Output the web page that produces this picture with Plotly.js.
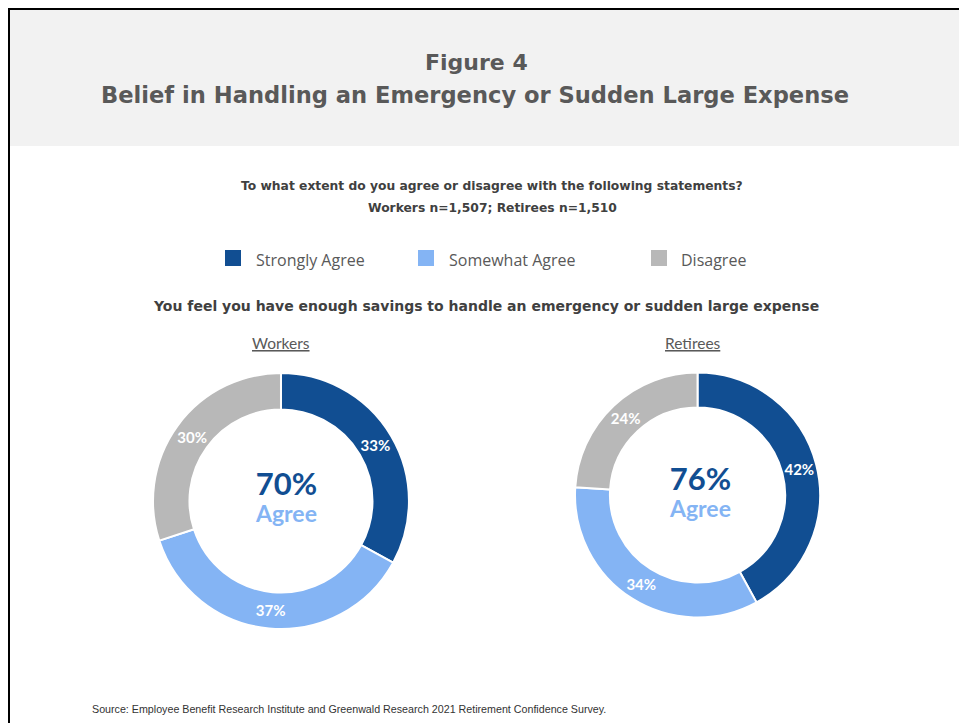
<!DOCTYPE html>
<html>
<head>
<meta charset="utf-8">
<script src="https://cdn.plot.ly/plotly-3.0.1.min.js"></script>
<style>html,body{margin:0;padding:0;background:#fff;}#chart{width:959px;height:723px;}</style>
</head>
<body>
<div id="chart"></div>
<script>
// Data
const categories = ["Strongly Agree", "Somewhat Agree", "Disagree"];
const workersValues = [33, 37, 30];
const retireesValues = [42, 34, 24];
const groupNames = ["Workers", "Retirees"];
const agreeTotals = [70, 76];
const colors = ["#114E92", "#84B4F4", "#B8B8B8"];

const FONT = "Lato, 'Open Sans', sans-serif";
const HEAD = "'DejaVu Sans', sans-serif";
const domains = [
  {x: [0.1595, 0.4265], y: [0.130, 0.484]},
  {x: [0.5996, 0.8551], y: [0.1459, 0.4848]}
];
const series = [workersValues, retireesValues];

const traces = series.map((vals, i) => ({
  type: "pie",
  labels: categories,
  values: vals,
  hole: 0.715,
  sort: false,
  direction: "clockwise",
  rotation: 0,
  domain: domains[i],
  marker: {colors: colors, line: {color: "#ffffff", width: 2}},
  texttemplate: "%{value}%",
  textposition: "inside",
  insidetextorientation: "horizontal",
  textfont: {family: FONT, size: 15, color: "#ffffff", weight: 700},
  showlegend: false,
  hoverinfo: "label+value"
}));

const annotations = [];
const shapes = [];

function px(x) { return x / 959; }
function py(y) { return 1 - y / 723; }

// Header band and border lines
shapes.push({type: "rect", xref: "paper", yref: "paper", x0: px(10), x1: 1, y0: py(146), y1: py(10), fillcolor: "#F2F2F2", line: {width: 0}, layer: "below"});
shapes.push({type: "line", xref: "paper", yref: "paper", x0: px(9), x1: px(9), y0: 0, y1: py(8), line: {color: "#000", width: 2}});
shapes.push({type: "line", xref: "paper", yref: "paper", x0: px(8), x1: 1, y0: py(9), y1: py(9), line: {color: "#000", width: 2}});

annotations.push({text: "<b>Figure 4</b>", x: px(476), y: py(62), xref: "paper", yref: "paper", showarrow: false, font: {family: HEAD, size: 22, color: "#595959"}, xanchor: "center", yanchor: "middle"});
annotations.push({text: "<b>Belief in Handling an Emergency or Sudden Large Expense</b>", x: px(475), y: py(95), xref: "paper", yref: "paper", showarrow: false, font: {family: HEAD, size: 22.6, color: "#595959"}, xanchor: "center", yanchor: "middle"});

annotations.push({text: "<b>To what extent do you agree or disagree with the following statements?</b>", x: px(492), y: py(186), xref: "paper", yref: "paper", showarrow: false, font: {family: HEAD, size: 12.3, color: "#404040"}, xanchor: "center", yanchor: "middle"});
annotations.push({text: "<b>Workers n=1,507; Retirees n=1,510</b>", x: px(492), y: py(208), xref: "paper", yref: "paper", showarrow: false, font: {family: HEAD, size: 12.3, color: "#404040"}, xanchor: "center", yanchor: "middle"});

// Legend
const legendSquareX = [225, 418, 651];
const legendTextX = [255, 448, 680];
categories.forEach((c, i) => {
  shapes.push({type: "rect", xref: "paper", yref: "paper", x0: px(legendSquareX[i]), x1: px(legendSquareX[i] + 16), y0: py(266), y1: py(250), fillcolor: colors[i], line: {width: 0}});
  annotations.push({text: c, x: px(legendTextX[i] - 1), y: py(260), xref: "paper", yref: "paper", showarrow: false, font: {family: "'Open Sans', sans-serif", size: 16, color: "#595959"}, xanchor: "left", yanchor: "middle"});
});

annotations.push({text: "<b>You feel you have enough savings to handle an emergency or sudden large expense</b>", x: px(486), y: py(306), xref: "paper", yref: "paper", showarrow: false, font: {family: HEAD, size: 14, color: "#404040"}, xanchor: "center", yanchor: "middle"});

// Group titles and center texts
const centers = [[286, 495], [700, 490]];
const titleX = [281, 693];
groupNames.forEach((g, i) => {
  annotations.push({text: "<u>" + g + "</u>", x: px(titleX[i]), y: py(343), xref: "paper", yref: "paper", showarrow: false, font: {family: FONT, size: 15.5, color: "#595959"}, xanchor: "center", yanchor: "middle"});
  annotations.push({
    text: "<span style='font-size:31px;color:" + colors[0] + "'><b>" + agreeTotals[i] + "%</b></span><br><span style='font-size:23px;color:" + colors[1] + "'><b>Agree</b></span>",
    x: px(centers[i][0]), y: py(centers[i][1]), xref: "paper", yref: "paper", showarrow: false,
    font: {family: FONT, size: 21, color: colors[1]}, xanchor: "center", yanchor: "middle", align: "center"
  });
});

annotations.push({text: "Source: Employee Benefit Research Institute and Greenwald Research 2021 Retirement Confidence Survey.", x: px(90), y: py(709), xref: "paper", yref: "paper", showarrow: false, font: {family: "'Liberation Sans', Arial, sans-serif", size: 10.7, color: "#333333"}, xanchor: "left", yanchor: "middle"});

const layout = {
  width: 959, height: 723,
  margin: {l: 0, r: 0, t: 0, b: 0},
  paper_bgcolor: "#ffffff",
  showlegend: false,
  shapes: shapes,
  annotations: annotations,
  font: {family: FONT}
};

Plotly.newPlot("chart", traces, layout, {displayModeBar: false, staticPlot: true});
</script>
</body>
</html>
